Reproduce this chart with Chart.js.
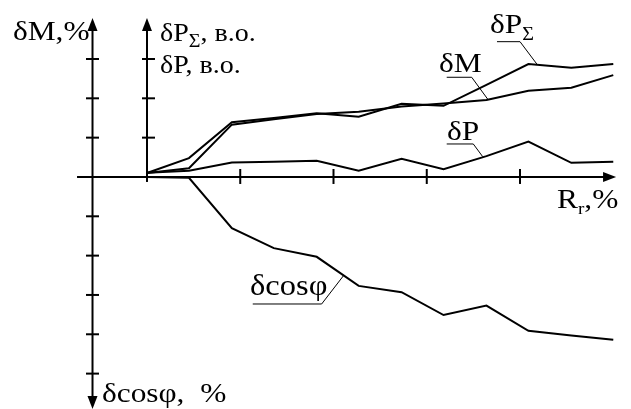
<!DOCTYPE html>
<html>
<head>
<meta charset="utf-8">
<script src="https://cdn.jsdelivr.net/npm/chart.js@4/dist/chart.umd.min.js"></script>
<style>
  html, body { margin: 0; padding: 0; background: #fff; }
  #wrap { width: 631px; height: 409px; position: relative; }
</style>
</head>
<body>
<div id="wrap"><canvas id="chart"></canvas></div>
<script>
// R_r, % (one unit = one tick on the horizontal axis)
const rr = [0, 0.45, 0.91, 1.36, 1.82, 2.27, 2.73, 3.18, 3.64, 4.09, 4.55, 5.0];

const dPsum = [0.10, 0.48, 1.39, 1.50, 1.62, 1.53, 1.86, 1.81, 2.34, 2.87, 2.78, 2.87];
const dM    = [0.10, 0.22, 1.33, 1.47, 1.60, 1.66, 1.79, 1.87, 1.96, 2.19, 2.27, 2.59];
const dP    = [0.11, 0.16, 0.37, 0.39, 0.41, 0.16, 0.46, 0.20, 0.53, 0.90, 0.36, 0.39];
const dCos  = [0.00, -0.02, -1.30, -1.81, -2.03, -2.77, -2.93, -3.51, -3.27, -3.91, -4.03, -4.14];

const xTicks = [1, 2, 3, 4];
const yTicksLeft = [3, 2, 1, -1, -2, -3, -4, -5];
const yTicksRight = [3, 2, 1];

const pts = ys => rr.map((x, i) => ({ x, y: ys[i] }));

const FONT = '"Liberation Serif", "Times New Roman", serif';
const SX = 1.12; // text looks a bit stretched horizontally

// draws a label made of runs: [text, isSub]
function drawRuns(ctx, l, px, py) {
  const size = l.size || 28;
  ctx.save();
  ctx.translate(px, py);
  ctx.scale(SX, 1);
  ctx.fillStyle = '#000';
  ctx.textBaseline = 'alphabetic';
  let x = 0;
  l.runs.forEach(([t, sub]) => {
    const s = sub ? Math.round(size * (l.sub || 0.68)) : size;
    ctx.font = `${s}px ${FONT}`;
    ctx.fillText(t, x, sub ? (l.shift || 7) : 0);
    x += ctx.measureText(t).width;
  });
  ctx.restore();
}

const labels = [
  { runs: [['δM,%']], at: [-1.437, 3.48] },
  { runs: [['δP'], ['Σ', true], [', в.о.']], at: [0.139, 3.46], size: 25, sub: 0.72, shift: 6.5 },
  { runs: [['δP, в.о.']], at: [0.139, 2.636], size: 25 },
  { runs: [['δP'], ['Σ', true]], at: [3.678, 3.661], sub: 0.63, shift: 7 },
  { runs: [['δM']], at: [3.131, 2.670] },
  { runs: [['δP']], at: [3.217, 0.941] },
  { runs: [['δcosφ']], at: [1.105, -3.0], size: 29 },
  { runs: [['R'], ['r', true], [',%']], at: [4.397, -0.79], sub: 0.6, shift: 6 },
  { runs: [['δcosφ,  %']], at: [-0.483, -5.721] }
];

const leaders = [
  [[3.753, 3.44], [4.0, 3.44], [4.182, 2.866]],
  [[3.214, 2.535], [3.482, 2.535], [3.66, 1.958]],
  [[3.214, 0.839], [3.499, 0.839], [3.6, 0.516]],
  [[1.134, -3.23], [1.873, -3.23], [2.105, -2.517]]
];

const axesPlugin = {
  id: 'axes',
  afterDatasetsDraw(chart) {
    const { ctx, scales: { x, y } } = chart;
    const X = v => x.getPixelForValue(v), Y = v => y.getPixelForValue(v);
    const leftX = X(-0.584), midX = X(0), zeroY = Y(0);
    const topY = Y(4.04), botY = Y(-5.9);

    ctx.save();
    ctx.strokeStyle = '#000';
    ctx.fillStyle = '#000';
    ctx.lineWidth = 2;
    ctx.lineCap = 'butt';

    const line = (x1, y1, x2, y2) => {
      ctx.beginPath(); ctx.moveTo(x1, y1); ctx.lineTo(x2, y2); ctx.stroke();
    };
    const arrow = (tx, ty, dir) => { // dir: 'up' | 'down' | 'right'
      ctx.beginPath();
      if (dir === 'up') { ctx.moveTo(tx, ty); ctx.lineTo(tx - 5, ty + 13); ctx.lineTo(tx + 5, ty + 13); }
      if (dir === 'down') { ctx.moveTo(tx, ty); ctx.lineTo(tx - 5, ty - 13); ctx.lineTo(tx + 5, ty - 13); }
      if (dir === 'right') { ctx.moveTo(tx, ty); ctx.lineTo(tx - 13, ty - 5); ctx.lineTo(tx - 13, ty + 5); }
      ctx.closePath(); ctx.fill();
    };

    // horizontal axis
    line(X(-0.75), zeroY, X(5.03) - 6, zeroY);
    arrow(X(5.03), zeroY, 'right');
    xTicks.forEach(v => line(X(v), zeroY - 8, X(v), zeroY + 7));

    // left axis (δM up, δcosφ down)
    line(leftX, topY + 6, leftX, botY - 6);
    arrow(leftX, topY, 'up');
    arrow(leftX, botY, 'down');
    yTicksLeft.forEach(v => line(leftX - 6.5, Y(v), leftX + 6.5, Y(v)));

    // second axis (δP)
    line(midX, topY + 6, midX, zeroY + 5);
    arrow(midX, topY, 'up');
    yTicksRight.forEach(v => line(midX - 5, Y(v), midX + 8, Y(v)));

    // leader lines
    ctx.lineWidth = 1;
    leaders.forEach(l => {
      ctx.beginPath();
      l.forEach(([a, b], i) => i ? ctx.lineTo(X(a), Y(b)) : ctx.moveTo(X(a), Y(b)));
      ctx.stroke();
    });

    labels.forEach(l => drawRuns(ctx, l, X(l.at[0]), Y(l.at[1])));
    ctx.restore();
  }
};

const lineDs = (label, ys) => ({
  label, data: pts(ys),
  borderColor: '#000', borderWidth: 2, pointRadius: 0,
  tension: 0, fill: false
});

new Chart(document.getElementById('chart'), {
  type: 'line',
  data: {
    datasets: [
      lineDs('δPΣ', dPsum),
      lineDs('δM', dM),
      lineDs('δP', dP),
      lineDs('δcosφ', dCos)
    ]
  },
  options: {
    responsive: true,
    maintainAspectRatio: false,
    animation: false,
    layout: { padding: 0 },
    plugins: { legend: { display: false }, tooltip: { enabled: false } },
    scales: {
      x: { type: 'linear', min: -1.576, max: 5.19, display: false },
      y: { type: 'linear', min: -5.9, max: 4.5, display: false }
    }
  },
  plugins: [axesPlugin]
});
</script>
</body>
</html>
